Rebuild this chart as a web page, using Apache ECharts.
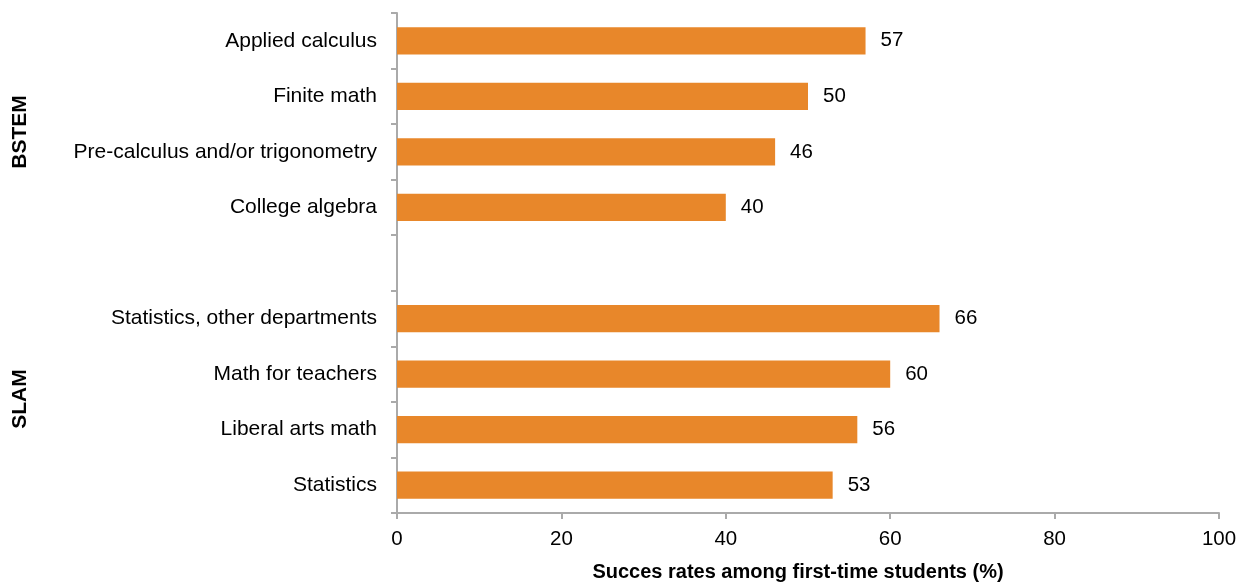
<!DOCTYPE html>
<html>
<head>
<meta charset="utf-8">
<script src="https://cdn.jsdelivr.net/npm/echarts@6/dist/echarts.min.js"></script>
<style>html,body{margin:0;padding:0;background:#fff;}#c{width:1243px;height:584px;}</style>
</head>
<body>
<div id="c"></div>
<script>
const categories = ["Applied calculus","Finite math","Pre-calculus and/or trigonometry","College algebra","","Statistics, other departments","Math for teachers","Liberal arts math","Statistics"];
const values = [57, 50, 46, 40, null, 66, 60, 56, 53];
const xTicks = {min: 0, max: 100, interval: 20};
const groupLabels = ["BSTEM", "SLAM"];
const axisName = "Succes rates among first-time students (%)";

const chart = echarts.init(document.getElementById('c'));
const font = 'Liberation Sans, Arial, sans-serif';
chart.setOption({
  animation: false,
  grid: {left: 397, right: 24, top: 13, bottom: 71, containLabel: false, outerBoundsMode: 'none'},
  xAxis: {
    type: 'value', min: xTicks.min, max: xTicks.max, interval: xTicks.interval,
    axisLine: {show: true, lineStyle: {color: '#aaaaaa', width: 2}},
    axisTick: {show: true, length: 6, lineStyle: {color: '#aaaaaa', width: 2}},
    splitLine: {show: false},
    axisLabel: {color: '#000', fontSize: 20.5, fontFamily: font, margin: 16},
    name: axisName, nameLocation: 'middle', nameGap: 49,
    nameTextStyle: {color: '#000', fontSize: 20, fontWeight: 'bold', fontFamily: font, padding: [0, 20, 0, 0]}
  },
  yAxis: {
    type: 'category', data: categories, inverse: true,
    axisLine: {show: true, lineStyle: {color: '#aaaaaa', width: 2}},
    axisTick: {show: true, length: 6, lineStyle: {color: '#aaaaaa', width: 2}},
    axisLabel: {color: '#000', fontSize: 21, fontFamily: font, margin: 20}
  },
  series: [{
    type: 'bar', data: values, barWidth: '49%',
    itemStyle: {color: '#E8872A'},
    label: {show: true, position: 'right', distance: 15, color: '#000', fontSize: 20.5, fontFamily: font}
  }],
  graphic: [
    {type: 'text', x: 20, y: 132, rotation: Math.PI/2, style: {text: groupLabels[0], fill: '#000', font: 'bold 21px ' + font, align: 'center', verticalAlign: 'middle'}},
    {type: 'text', x: 20, y: 399, rotation: Math.PI/2, style: {text: groupLabels[1], fill: '#000', font: 'bold 21px ' + font, align: 'center', verticalAlign: 'middle'}}
  ]
});
</script>
</body>
</html>
